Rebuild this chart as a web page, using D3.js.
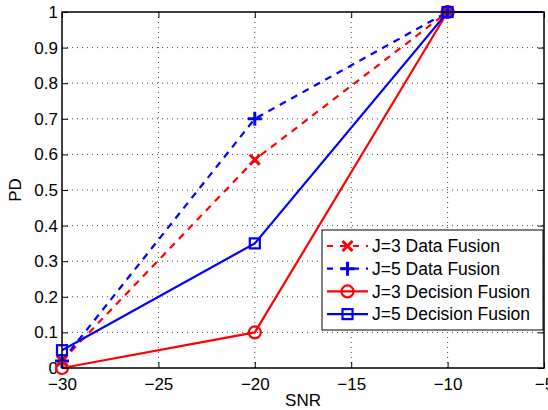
<!DOCTYPE html>
<html>
<head>
<meta charset="utf-8">
<script src="https://cdn.jsdelivr.net/npm/d3@7"></script>
<style>
  body { margin: 0; background: #fff; }
  svg { font-family: "Liberation Sans", Arial, sans-serif; }
  .grid line { stroke: #444; stroke-dasharray: 1 4; stroke-width: 1; }
  .axis text { font-size: 17px; fill: #000; }
</style>
</head>
<body>
<svg id="chart" width="548" height="410"></svg>
<script>
// data
var snr = [-30, -20, -10, 0];
var j3Data = [0.02, 0.585, 1, 1];
var j5Data = [0.02, 0.7, 1, 1];
var j3Decision = [0, 0.1, 1, 1];
var j5Decision = [0.05, 0.35, 1, 1];
var xTicks = [-30, -25, -20, -15, -10, -5];
var yTicks = [0, 0.1, 0.2, 0.3, 0.4, 0.5, 0.6, 0.7, 0.8, 0.9, 1];

var seriesList = [
  { name: "J=3 Data Fusion", values: j3Data, color: "#ff0000", dash: "7 6", marker: "x" },
  { name: "J=5 Data Fusion", values: j5Data, color: "#0000ff", dash: "7 6", marker: "plus" },
  { name: "J=3 Decision Fusion", values: j3Decision, color: "#ff0000", dash: null, marker: "circle" },
  { name: "J=5 Decision Fusion", values: j5Decision, color: "#0000ff", dash: null, marker: "square" }
];

var margin = { top: 12, right: 4, bottom: 42, left: 62 };
var svg = d3.select("#chart");
var width = 548 - margin.left - margin.right;
var height = 410 - margin.top - margin.bottom;

var x = d3.scaleLinear().domain([-30, -5]).range([0, width]);
var y = d3.scaleLinear().domain([0, 1]).range([height, 0]);

var g = svg.append("g").attr("transform", "translate(" + margin.left + "," + margin.top + ")");

svg.append("defs").append("clipPath").attr("id", "clip")
  .append("rect").attr("x", 0).attr("y", -10).attr("width", width).attr("height", height + 20);

// grid
var grid = g.append("g").attr("class", "grid");
grid.selectAll(".gx").data(xTicks.slice(1, -1)).enter().append("line")
  .attr("x1", d => x(d)).attr("x2", d => x(d)).attr("y1", 0).attr("y2", height);
grid.selectAll(".gy").data(yTicks.slice(1, -1)).enter().append("line")
  .attr("x1", 0).attr("x2", width).attr("y1", d => y(d)).attr("y2", d => y(d));

// axes (ticks inside, mirrored)
var fmt = d3.format("");
var minus = function (d) { return d < 0 ? "\u2212" + Math.abs(d) : fmt(d); };
g.append("g").attr("class", "axis").attr("transform", "translate(0," + height + ")")
  .call(d3.axisBottom(x).tickValues(xTicks).tickSizeInner(-6).tickSizeOuter(0).tickPadding(10).tickFormat(minus));
g.append("g").attr("class", "axis")
  .call(d3.axisTop(x).tickValues(xTicks).tickSizeInner(-6).tickSizeOuter(0).tickFormat(""));
g.append("g").attr("class", "axis")
  .call(d3.axisLeft(y).tickValues(yTicks).tickSizeInner(-6).tickSizeOuter(0).tickPadding(4).tickFormat(d3.format("")));
g.append("g").attr("class", "axis").attr("transform", "translate(" + width + ",0)")
  .call(d3.axisRight(y).tickValues(yTicks).tickSizeInner(-6).tickSizeOuter(0).tickFormat(""));
g.selectAll(".axis .domain").remove();
g.selectAll(".axis .tick line").attr("stroke", "#000");

// lines
var line = d3.line().x((d, i) => x(snr[i])).y(d => y(d));
var plot = g.append("g").attr("clip-path", "url(#clip)");

function drawMarker(sel, type, color, cx, cy) {
  if (type === "x") {
    sel.append("path").attr("d", "M-5,-5L5,5M-5,5L5,-5").attr("transform", "translate(" + cx + "," + cy + ")")
      .attr("stroke", color).attr("stroke-width", 3).attr("fill", "none");
  } else if (type === "plus") {
    sel.append("path").attr("d", "M-7,0L7,0M0,-7L0,7").attr("transform", "translate(" + cx + "," + cy + ")")
      .attr("stroke", color).attr("stroke-width", 3).attr("fill", "none");
  } else if (type === "circle") {
    sel.append("circle").attr("cx", cx).attr("cy", cy).attr("r", 6)
      .attr("stroke", color).attr("stroke-width", 2.2).attr("fill", "none");
  } else {
    sel.append("rect").attr("x", cx - 5).attr("y", cy - 5).attr("width", 10).attr("height", 10)
      .attr("stroke", color).attr("stroke-width", 2.2).attr("fill", "none");
  }
}

seriesList.forEach(function (s) {
  plot.append("path").datum(s.values).attr("d", line)
    .attr("fill", "none").attr("stroke", s.color).attr("stroke-width", 2.2)
    .attr("stroke-dasharray", s.dash);
});
seriesList.forEach(function (s) {
  s.values.forEach(function (v, i) {
    if (snr[i] < -5) drawMarker(g, s.marker, s.color, x(snr[i]), y(v));
  });
});

// frame
g.append("rect").attr("x", 0).attr("y", 0).attr("width", width).attr("height", height)
  .attr("fill", "none").attr("stroke", "#000").attr("stroke-width", 1.5);

// legend
var leg = g.append("g").attr("transform", "translate(" + (322 - margin.left) + "," + (230 - margin.top) + ")");
leg.append("rect").attr("width", 221).attr("height", 100).attr("fill", "#fff")
  .attr("stroke", "#000").attr("stroke-width", 1);
seriesList.forEach(function (s, i) {
  var ry = 16 + i * 22.7;
  leg.append("line").attr("x1", 5).attr("x2", 46).attr("y1", ry).attr("y2", ry)
    .attr("stroke", s.color).attr("stroke-width", 2.2).attr("stroke-dasharray", s.dash ? "6 7" : null);
  drawMarker(leg, s.marker, s.color, 25.5, ry);
  leg.append("text").attr("x", 50).attr("y", ry).attr("dy", "0.35em")
    .attr("font-size", 17.5).text(s.name);
});

// axis labels
svg.append("text").attr("x", margin.left + x(-17.5)).attr("y", 406)
  .attr("text-anchor", "middle").attr("font-size", 17).text("SNR");
svg.append("text").attr("transform", "translate(21," + (margin.top + height / 2) + ") rotate(-90)")
  .attr("text-anchor", "middle").attr("font-size", 17).text("PD");
</script>
</body>
</html>
